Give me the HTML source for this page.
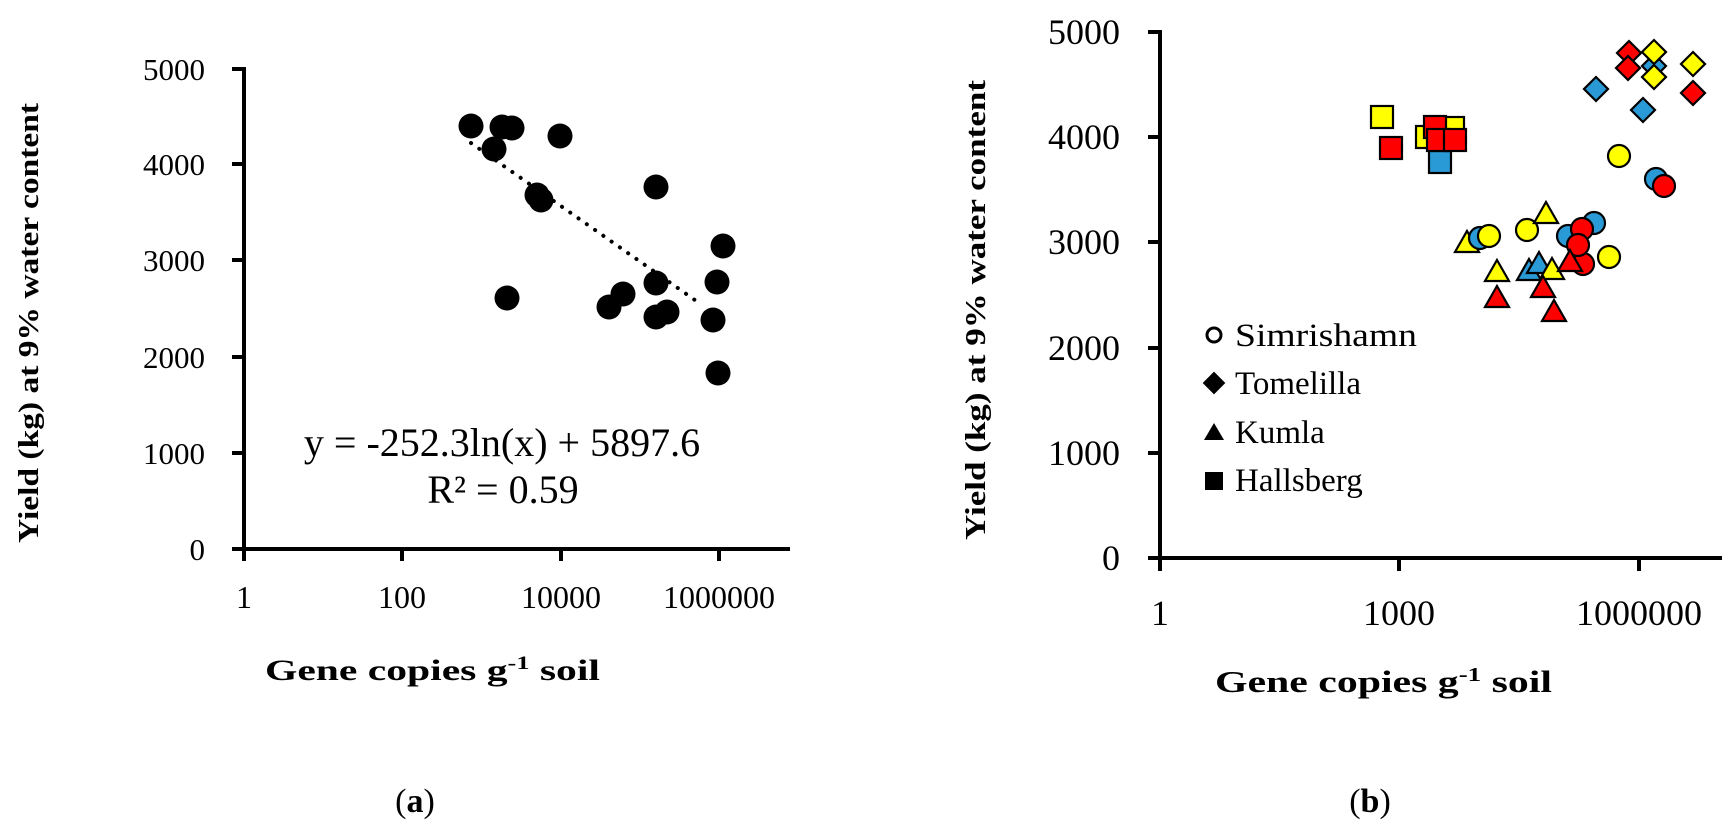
<!DOCTYPE html>
<html><head><meta charset="utf-8"><style>
html,body{margin:0;padding:0;background:#fff}
svg{display:block}
text{font-family:"Liberation Serif",serif;fill:#000}
</style></head><body>
<svg width="1731" height="832" viewBox="0 0 1731 832" xmlns="http://www.w3.org/2000/svg">
<g stroke="#000" stroke-width="4" fill="none">
  <line x1="244" y1="67" x2="244" y2="551"/>
  <line x1="232" y1="549" x2="790" y2="549"/>
  <line x1="232" y1="69" x2="244" y2="69"/>
  <line x1="232" y1="164" x2="244" y2="164"/>
  <line x1="232" y1="260" x2="244" y2="260"/>
  <line x1="232" y1="357" x2="244" y2="357"/>
  <line x1="232" y1="453" x2="244" y2="453"/>
  <line x1="244" y1="549" x2="244" y2="561"/>
  <line x1="402" y1="549" x2="402" y2="561"/>
  <line x1="561" y1="549" x2="561" y2="561"/>
  <line x1="719" y1="549" x2="719" y2="561"/>
</g>
<g font-size="31" text-anchor="end">
  <text x="205" y="80">5000</text>
  <text x="205" y="175">4000</text>
  <text x="205" y="271">3000</text>
  <text x="205" y="368">2000</text>
  <text x="205" y="464">1000</text>
  <text x="205" y="560">0</text>
</g>
<g font-size="32" text-anchor="middle">
  <text x="244" y="608">1</text>
  <text x="402" y="608">100</text>
  <text x="561" y="608">10000</text>
  <text x="719" y="608">1000000</text>
</g>
<text x="265" y="680" font-size="30" font-weight="bold" textLength="335" lengthAdjust="spacingAndGlyphs">Gene copies g<tspan dy="-11" font-size="19">-1</tspan><tspan dy="11"> soil</tspan></text>
<text transform="translate(38,323) rotate(-90)" text-anchor="middle" font-size="28" font-weight="bold" textLength="440" lengthAdjust="spacingAndGlyphs">Yield  (kg) at 9% water content</text>
<line x1="471" y1="143" x2="702" y2="305" stroke="#000" stroke-width="4" stroke-dasharray="0.1 10" stroke-linecap="round"/>
<g fill="#000">
  <circle cx="471" cy="126" r="12.5"/><circle cx="502" cy="127" r="12.5"/><circle cx="512" cy="128" r="12.5"/>
  <circle cx="494" cy="149" r="12.5"/><circle cx="537" cy="195" r="12.5"/><circle cx="541" cy="200" r="12.5"/>
  <circle cx="560" cy="136" r="12.5"/><circle cx="656" cy="187" r="12.5"/><circle cx="507" cy="298" r="12.5"/>
  <circle cx="609" cy="307" r="12.5"/><circle cx="623" cy="294" r="12.5"/><circle cx="656" cy="283" r="12.5"/>
  <circle cx="656" cy="317" r="12.5"/><circle cx="667" cy="312" r="12.5"/><circle cx="723" cy="246" r="12.5"/>
  <circle cx="717" cy="282" r="12.5"/><circle cx="713" cy="320" r="12.5"/><circle cx="718" cy="373" r="12.5"/>
</g>
<text x="502" y="456" font-size="40" text-anchor="middle">y = -252.3ln(x) + 5897.6</text>
<text x="503" y="503" font-size="40" text-anchor="middle">R² = 0.59</text>
<text x="415" y="812" font-size="34" text-anchor="middle">(<tspan font-weight="bold">a</tspan>)</text>

<g stroke="#000" stroke-width="4" fill="none">
  <line x1="1160" y1="30" x2="1160" y2="560"/>
  <line x1="1148" y1="558" x2="1722" y2="558"/>
  <line x1="1148" y1="32" x2="1160" y2="32"/>
  <line x1="1148" y1="137" x2="1160" y2="137"/>
  <line x1="1148" y1="242" x2="1160" y2="242"/>
  <line x1="1148" y1="348" x2="1160" y2="348"/>
  <line x1="1148" y1="453" x2="1160" y2="453"/>
  <line x1="1160" y1="558" x2="1160" y2="571"/>
  <line x1="1399" y1="558" x2="1399" y2="571"/>
  <line x1="1639" y1="558" x2="1639" y2="571"/>
</g>
<g font-size="36" text-anchor="end">
  <text x="1120" y="44">5000</text>
  <text x="1120" y="149">4000</text>
  <text x="1120" y="254">3000</text>
  <text x="1120" y="360">2000</text>
  <text x="1120" y="465">1000</text>
  <text x="1120" y="570">0</text>
</g>
<g font-size="36" text-anchor="middle">
  <text x="1160" y="625">1</text>
  <text x="1399" y="625">1000</text>
  <text x="1639" y="625">1000000</text>
</g>
<text x="1215" y="692" font-size="31" font-weight="bold" textLength="337" lengthAdjust="spacingAndGlyphs">Gene copies g<tspan dy="-11" font-size="20">-1</tspan><tspan dy="11"> soil</tspan></text>
<text transform="translate(985,310) rotate(-90)" text-anchor="middle" font-size="29" font-weight="bold" textLength="460" lengthAdjust="spacingAndGlyphs">Yield  (kg) at 9% water content</text>

<circle cx="1214" cy="335" r="7" fill="#fff" stroke="#000" stroke-width="3"/>
<rect x="1206" y="375" width="16" height="16" transform="rotate(45 1214 383)" fill="#000"/>
<polygon points="1214,423 1224,440 1204,440" fill="#000"/>
<rect x="1205" y="472" width="18" height="18" fill="#000"/>
<g font-size="33">
  <text x="1235" y="346" textLength="182" lengthAdjust="spacingAndGlyphs">Simrishamn</text>
  <text x="1235" y="394">Tomelilla</text>
  <text x="1235" y="443">Kumla</text>
  <text x="1235" y="491">Hallsberg</text>
</g>

<g stroke="#000" stroke-width="2.2">
  <rect x="1371" y="106" width="22" height="22" fill="#FFFF00"/>
  <rect x="1416" y="126" width="22" height="22" fill="#FFFF00"/>
  <rect x="1442" y="117" width="22" height="22" fill="#FFFF00"/>
  <rect x="1429" y="151" width="22" height="22" fill="#2A9AD6"/>
  <rect x="1424" y="116" width="22" height="22" fill="#FF0000"/>
  <rect x="1427" y="129" width="22" height="22" fill="#FF0000"/>
  <rect x="1444" y="129" width="22" height="22" fill="#FF0000"/>
  <rect x="1380" y="137" width="22" height="22" fill="#FF0000"/>
  <polygon points="1596,77 1608,89 1596,101 1584,89" fill="#2A9AD6"/>
  <polygon points="1643,98 1655,110 1643,122 1631,110" fill="#2A9AD6"/>
  <polygon points="1654,54 1666,66 1654,78 1642,66" fill="#2A9AD6"/>
  <polygon points="1629,41 1641,53 1629,65 1617,53" fill="#FF0000"/>
  <polygon points="1654,40 1666,52 1654,64 1642,52" fill="#FFFF00"/>
  <polygon points="1628,56 1640,68 1628,80 1616,68" fill="#FF0000"/>
  <polygon points="1654,65 1666,77 1654,89 1642,77" fill="#FFFF00"/>
  <polygon points="1693,52 1705,64 1693,76 1681,64" fill="#FFFF00"/>
  <polygon points="1693,81 1705,93 1693,105 1681,93" fill="#FF0000"/>
  <circle cx="1619" cy="156" r="11" fill="#FFFF00"/>
  <circle cx="1656" cy="179" r="11" fill="#2A9AD6"/>
  <circle cx="1664" cy="186" r="11" fill="#FF0000"/>
  <polygon points="1467,231 1479,252 1455,252" fill="#FFFF00"/>
  <circle cx="1480" cy="238" r="11" fill="#2A9AD6"/>
  <circle cx="1489" cy="236" r="11" fill="#FFFF00"/>
  <polygon points="1497,260 1509,281 1485,281" fill="#FFFF00"/>
  <polygon points="1497,286 1509,307 1485,307" fill="#FF0000"/>
  <circle cx="1527" cy="230" r="11" fill="#FFFF00"/>
  <polygon points="1546,202 1558,223 1534,223" fill="#FFFF00"/>
  <polygon points="1529,259 1541,280 1517,280" fill="#2A9AD6"/>
  <polygon points="1539,252 1551,273 1527,273" fill="#2A9AD6"/>
  <polygon points="1552,258 1564,279 1540,279" fill="#FFFF00"/>
  <polygon points="1543,276 1555,297 1531,297" fill="#FF0000"/>
  <polygon points="1554,300 1566,321 1542,321" fill="#FF0000"/>
  <circle cx="1594" cy="223" r="11" fill="#2A9AD6"/>
  <circle cx="1568" cy="236" r="11" fill="#2A9AD6"/>
  <circle cx="1582" cy="229" r="11" fill="#FF0000"/>
  <circle cx="1609" cy="257" r="11" fill="#FFFF00"/>
  <circle cx="1583" cy="264" r="11" fill="#FF0000"/>
  <circle cx="1578" cy="245" r="11" fill="#FF0000"/>
  <polygon points="1570,250 1582,271 1558,271" fill="#FF0000"/>
</g>
<text x="1370" y="812" font-size="34" text-anchor="middle">(<tspan font-weight="bold">b</tspan>)</text>
</svg>
</body></html>
